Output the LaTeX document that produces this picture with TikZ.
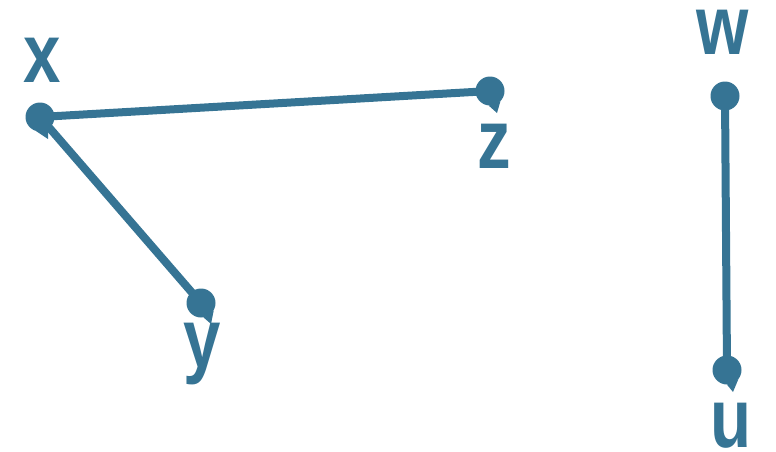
\documentclass[tikz,border=0pt]{standalone}
\usepackage{fontspec}
\setmainfont{Liberation Sans}[FakeStretch=0.8]
\usetikzlibrary{calc}
\definecolor{vtx}{RGB}{54,116,148}
\tikzset{
  dot/.style={circle, fill=vtx, minimum size=29pt, inner sep=0pt},
  lbl/.style={text=vtx, font=\fontsize{84}{84}\selectfont\bfseries, inner sep=0pt},
  edge/.style={draw=vtx, line width=8pt},
  tail/.style={fill=vtx}
}
\begin{document}
\begin{tikzpicture}[x=1pt,y=1pt]
  \useasboundingbox (0,0) rectangle (776,-452);
  % vertices
  \node[dot] (x) at (40,-117) {};
  \node[dot] (z) at (490,-91) {};
  \node[dot] (y) at (201,-303) {};
  \node[dot] (w) at (725,-96) {};
  \node[dot] (u) at (727,-370) {};
  % edges
  \draw[edge] (x.center) -- (z.center);
  \draw[edge] (x.center) -- (y.center);
  \draw[edge] (w.center) -- (u.center);
  % small pointed tails under the dots
  \fill[tail] (x.-55) -- ($(x)+(8,-22)$) -- (x.-105) -- cycle;
  \fill[tail] (z.-45) -- ($(z)+(7,-22)$) -- (z.-95) -- cycle;
  \fill[tail] (y.-30) -- ($(y)+(10,-21)$) -- (y.-80) -- cycle;
  \fill[tail] (u.-40) -- ($(u)+(6,-22)$) -- (u.-90) -- cycle;
  % labels
  \node[lbl, anchor=base] (lx) at (42,-82) {x};
  \node[lbl, anchor=base] (lz) at (494,-168) {z};
  \node[lbl, anchor=base] (ly) at (202,-367) {y};
  \node[lbl, anchor=base] (lw) at (723,-55) {w};
  \node[lbl, anchor=base] (lu) at (731,-447) {u};
\end{tikzpicture}
\end{document}
